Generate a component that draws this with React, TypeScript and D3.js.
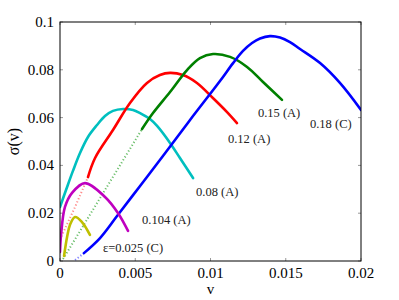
import React from 'react';
import * as d3 from 'd3';

type Pt = [number, number];

// solid branches (v, sigma)
const blueSolid: Pt[] = [
  [0.00159, 0.0033], [0.00266, 0.0096], [0.00379, 0.0188], [0.00532, 0.0314],
  [0.00684, 0.0439], [0.00864, 0.059], [0.01063, 0.0753], [0.0115, 0.0828],
  [0.01216, 0.0879], [0.01276, 0.0912], [0.01329, 0.0931], [0.01395, 0.0941],
  [0.01462, 0.0935], [0.01528, 0.0916], [0.01595, 0.0887], [0.01728, 0.0828],
  [0.0186, 0.0745], [0.02, 0.0632],
];
const blueDots: Pt[] = [[0.001, 0.0004], [0.00159, 0.0033]];

const greenSolid: Pt[] = [
  [0.00545, 0.0552], [0.00618, 0.0619], [0.00731, 0.0707], [0.00844, 0.0799],
  [0.0093, 0.0849], [0.01017, 0.0866], [0.0113, 0.0854], [0.01243, 0.0812],
  [0.01349, 0.0749], [0.01475, 0.0674],
];
const greenDots: Pt[] = [[0.0002, 0.0008], [0.00545, 0.0552]];

const redSolid: Pt[] = [
  [0.00186, 0.0351], [0.00233, 0.0431], [0.00352, 0.0548], [0.00465, 0.0661],
  [0.00578, 0.0745], [0.00664, 0.0778], [0.00731, 0.0787], [0.00817, 0.0778],
  [0.0091, 0.0745], [0.01016, 0.0682], [0.0111, 0.0623], [0.01176, 0.0577],
];
const redDots: Pt[] = [[0.0, 0.009], [0.001, 0.0226], [0.00186, 0.0351]];

const cyanSolid: Pt[] = [
  [0.0, 0.0226], [0.0004, 0.0297], [0.00086, 0.0377], [0.00133, 0.0452],
  [0.00186, 0.0519], [0.00246, 0.0569], [0.00299, 0.0607], [0.00352, 0.0628],
  [0.00419, 0.0636], [0.00485, 0.0632], [0.00532, 0.0619], [0.00598, 0.0594],
  [0.00645, 0.0565], [0.00731, 0.0494], [0.00797, 0.0431], [0.00884, 0.0347],
];

const magentaSolid: Pt[] = [
  [0.0, 0.0038], [0.00007, 0.0109], [0.00033, 0.0226], [0.0008, 0.0285],
  [0.00166, 0.0326], [0.00299, 0.0268], [0.00385, 0.0201], [0.00452, 0.0126],
];

const yellowSolid: Pt[] = [
  [0.00027, 0.0021], [0.00047, 0.01], [0.00066, 0.0151], [0.001, 0.0184],
  [0.00146, 0.0163], [0.00199, 0.0109],
];

const xTicks = [0, 0.005, 0.01, 0.015, 0.02];
const yTicks = [0, 0.02, 0.04, 0.06, 0.08, 0.1];

const curveLabels = [
  { text: '0.15 (A)', v: 0.01315, s: 0.0602 },
  { text: '0.18 (C)', v: 0.01661, s: 0.0556 },
  { text: '0.12 (A)', v: 0.01116, s: 0.0494 },
  { text: '0.08 (A)', v: 0.00904, s: 0.0272 },
  { text: '0.104 (A)', v: 0.00545, s: 0.0155 },
  { text: 'ε=0.025 (C)', v: 0.00285, s: 0.0038 },
];

const W = 399, H = 300;
const L = 60, R = 361, T = 22, B = 261;

export default function App() {
  const x = d3.scaleLinear().domain([0, 0.02]).range([L, R]);
  const y = d3.scaleLinear().domain([0, 0.1]).range([B, T]);
  const line = d3.line<Pt>().x(d => x(d[0])).y(d => y(d[1])).curve(d3.curveCatmullRom.alpha(0.5));
  const straight = d3.line<Pt>().x(d => x(d[0])).y(d => y(d[1]));

  const solids: [Pt[], string][] = [
    [cyanSolid, '#00bfbf'], [redSolid, '#ff0000'], [greenSolid, '#008000'],
    [blueSolid, '#0000ff'], [magentaSolid, '#bf00bf'], [yellowSolid, '#bfbf00'],
  ];
  const dots: [Pt[], string][] = [
    [redDots, '#ff8c8c'], [greenDots, '#6cbf6c'], [blueDots, '#7f7fff'],
  ];
  const serif = { fontFamily: "'Liberation Serif', 'Times New Roman', 'DejaVu Serif', serif" };

  return (
    <svg width={W} height={H} style={{ position: 'absolute', left: 0, top: 0 }}>
      <rect width={W} height={H} fill="#fff" />
      <defs>
        <clipPath id="plot"><rect x={L} y={T} width={R - L} height={B - T} /></clipPath>
      </defs>
      {xTicks.map(t => (
        <g key={'x' + t}>
          <line x1={x(t)} x2={x(t)} y1={B} y2={B - 3} stroke="#999" />
          <line x1={x(t)} x2={x(t)} y1={T} y2={T + 3} stroke="#999" />
          <text x={x(t)} y={278} textAnchor="middle" fontSize={15} style={serif}>{String(t)}</text>
        </g>
      ))}
      {yTicks.map(t => (
        <g key={'y' + t}>
          <line x1={L} x2={L + 3} y1={y(t)} y2={y(t)} stroke="#999" />
          <line x1={R} x2={R - 3} y1={y(t)} y2={y(t)} stroke="#999" />
          <text x={54} y={y(t) + 5} textAnchor="end" fontSize={15} style={serif}>{String(t)}</text>
        </g>
      ))}
      <g clipPath="url(#plot)">
        {dots.map(([d, c], i) => (
          <path key={'d' + i} d={straight(d) || ''} fill="none" stroke={c} strokeWidth={2} strokeDasharray="1.2 2.2" />
        ))}
        {solids.map(([d, c], i) => (
          <path key={'s' + i} d={line(d) || ''} fill="none" stroke={c} strokeWidth={2.6} strokeLinecap="round" />
        ))}
      </g>
      <rect x={L} y={T} width={R - L} height={B - T} fill="none" stroke="#000" strokeWidth={1} />
      {curveLabels.map(l => (
        <text key={l.text} x={x(l.v)} y={y(l.s)} fontSize={12.5} style={serif} fill="#222">{l.text}</text>
      ))}
      <text x={(L + R) / 2} y={294} textAnchor="middle" fontSize={15} style={serif}>v</text>
      <text transform={`translate(19,${(T + B) / 2}) rotate(-90)`} textAnchor="middle" fontSize={16} style={serif}>σ(v)</text>
    </svg>
  );
}
